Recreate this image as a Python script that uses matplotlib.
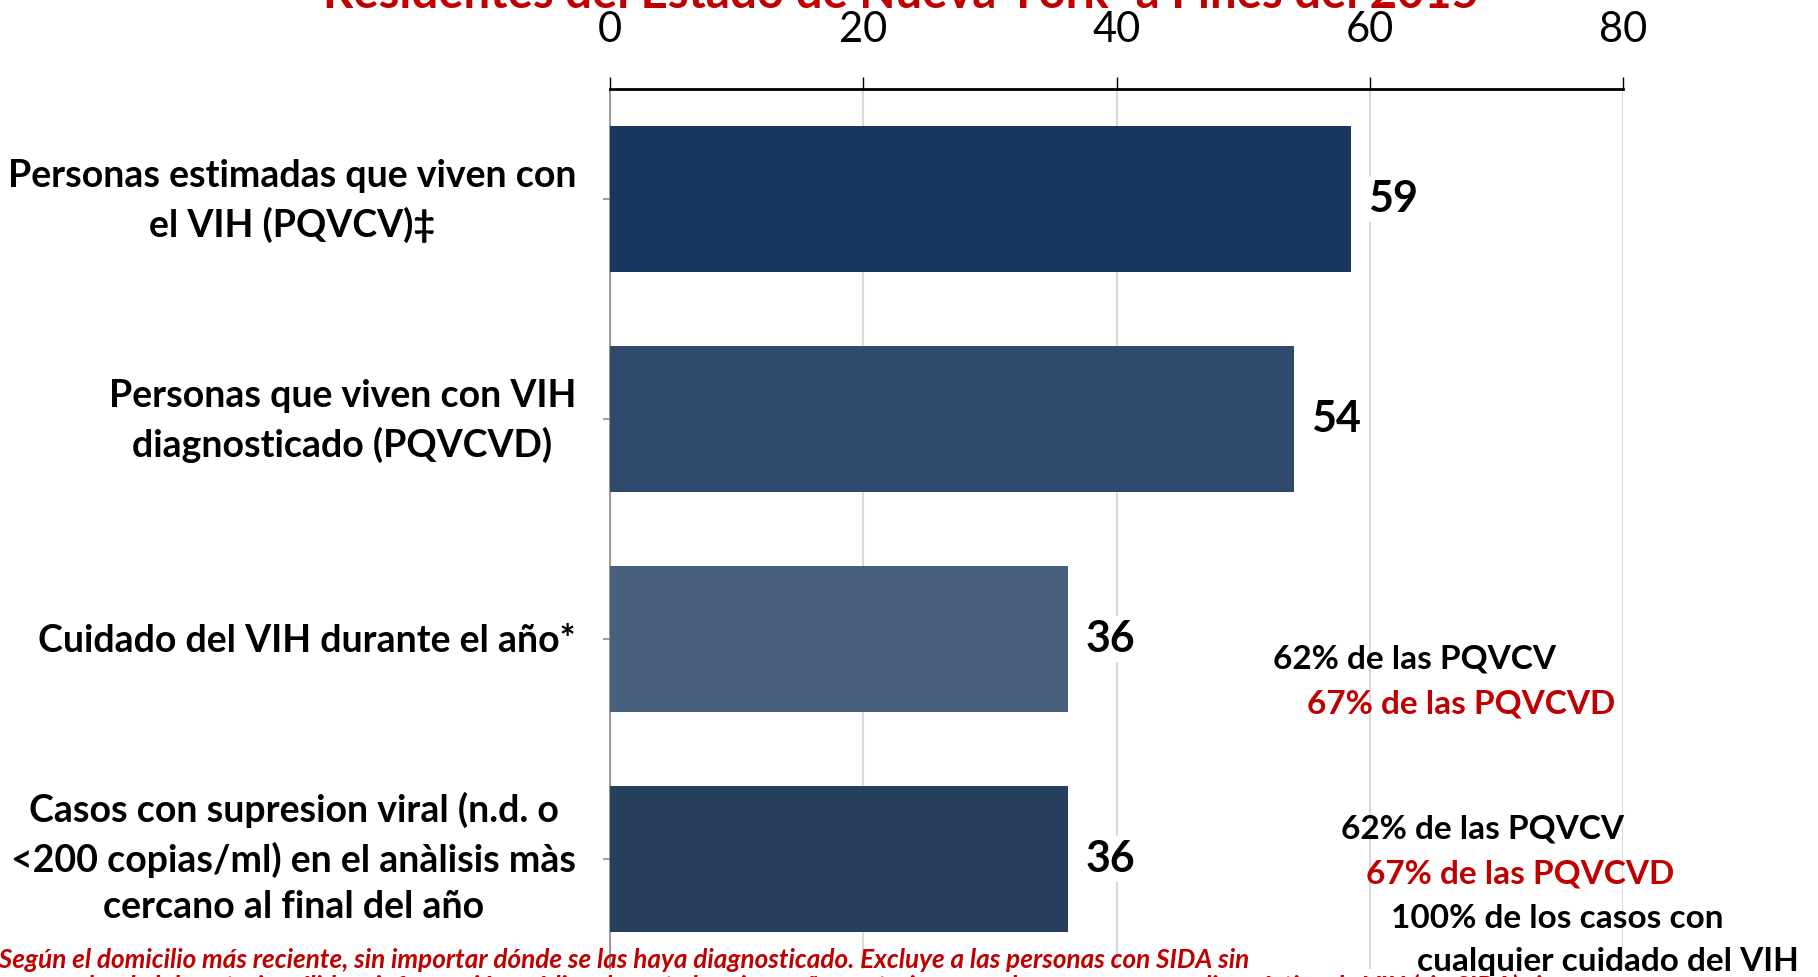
import matplotlib
matplotlib.use("Agg")
import matplotlib.pyplot as plt

plt.rcParams['font.family'] = ['Lato', 'DejaVu Sans']

# ---- data ----
categories = [
    "Personas estimadas que viven con\nel VIH (PQVCV)\u2021",
    "Personas que viven con VIH\ndiagnosticado (PQVCVD)",
    "Cuidado del VIH durante el año*",
    "Casos con supresion viral (n.d. o\n<200 copias/ml) en el anàlisis màs\ncercano al final del año",
]
values = [58.5, 54.0, 36.2, 36.2]
value_labels = ["59", "54", "36", "36"]
x_ticks = [0, 20, 40, 60, 80]
title_text = "Residentes del Estado de Nueva York\u00b9 a Fines del 2015"
annot_care = ["62% de las PQVCV", "67% de las PQVCVD"]
annot_supp = ["62% de las PQVCV", "67% de las PQVCVD", "100% de los casos con", "cualquier cuidado del VIH"]
footnote_lines = [
    "\u00b9Según el domicilio más reciente, sin importar dónde se las haya diagnosticado. Excluye a las personas con SIDA sin",
    "una prueba de laboratorio válida o información médica durante los cinco años anteriores, y a las personas con diagnóstico de VIH (sin SIDA) sin",
]

# ---- style ----
bar_colors = ["#17375E", "#2F4A6D", "#46607E", "#263F5F"]
red = "#C00000"

W, H = 1818, 977
fig = plt.figure(figsize=(W / 100, H / 100), dpi=100)
ax = fig.add_axes([610 / W, 8 / H, (1623 - 610) / W, (969 - 89) / H])

ypos = list(range(len(categories)))
ax.barh(ypos, values, height=0.665, color=bar_colors, zorder=3)
ax.set_xlim(0, 80)
ax.set_ylim(3.5, -0.5)

ax.xaxis.tick_top()
ax.set_xticks(x_ticks)
ax.set_xticklabels([str(t) for t in x_ticks])
ax.tick_params(axis='x', direction='out', length=8.6, width=1, color='black',
               labelsize=30, pad=20)
ax.grid(axis='x', color='#D9D9D9', linewidth=1.5, zorder=0)
ax.set_axisbelow(True)

ax.set_yticks(ypos)
ax.set_yticklabels([""] * len(ypos))
ax.tick_params(axis='y', direction='out', length=5, width=1.2, color='#8C8C8C')

# category labels drawn next to the axis
for y, cat in zip(ypos, categories):
    n = cat.count("\n") + 1
    dy = {1: -2, 2: -2, 3: 1}[n]
    ax.annotate(cat, xy=(0, y), xycoords=('axes fraction', 'data'),
                xytext=(-34, dy), textcoords='offset pixels',
                ha='right', va='center', multialignment='center',
                fontsize=27, fontweight='bold', linespacing=1.45,
                annotation_clip=False)

for s in ['right', 'bottom']:
    ax.spines[s].set_visible(False)
ax.spines['top'].set_linewidth(2)
ax.spines['top'].set_color('black')
ax.spines['left'].set_color('#8C8C8C')
ax.spines['left'].set_linewidth(1.2)

# value labels
for y, v, t in zip(ypos, values, value_labels):
    ax.annotate(t, xy=(v, y), xytext=(17, 0), textcoords='offset pixels',
                ha='left', va='center', fontsize=31, fontweight='bold',
                bbox=dict(facecolor='white', edgecolor='none', pad=2), zorder=4)

# title (cut at top)
fig.text(901 / W, 1 - 8 / H, title_text, ha='center', va='baseline',
         fontsize=34, fontweight='bold', color=red)

# right annotations (figure pixel positions)
ann_pos_care = [(1273, 659, 'black'), (1307, 704, red)]
for (x, y, c), t in zip(ann_pos_care, annot_care):
    fig.text(x / W, 1 - y / H, t, ha='left', va='center', fontsize=24,
             fontweight='bold', color=c)
ann_pos_supp = [(1341, 829, 'black'), (1366, 874, red), (1391, 918, 'black'), (1417, 962, 'black')]
for (x, y, c), t in zip(ann_pos_supp, annot_supp):
    fig.text(x / W, 1 - y / H, t, ha='left', va='center', fontsize=24,
             fontweight='bold', color=c)

# footnote
for i, line in enumerate(footnote_lines):
    fig.text(-10 / W, 1 - (959 + 27 * i) / H, line, ha='left', va='center',
             fontsize=18.8, fontweight='bold', fontstyle='italic', color=red)

fig.savefig("out.png", dpi=100)
